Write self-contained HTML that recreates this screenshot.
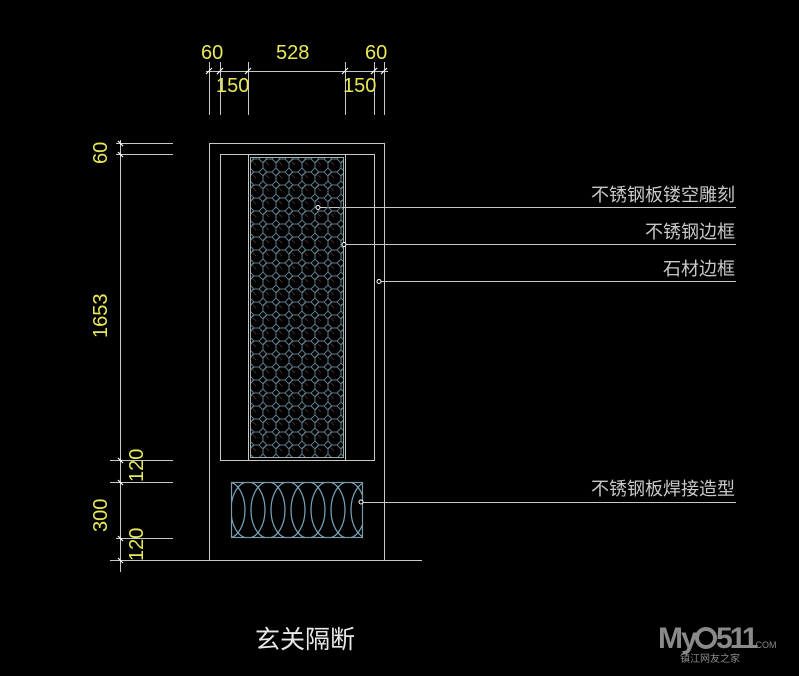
<!DOCTYPE html>
<html><head><meta charset="utf-8"><style>
html,body{margin:0;padding:0;background:#000;}
svg{display:block}
</style></head><body>
<svg width="799" height="676" viewBox="0 0 799 676" xmlns="http://www.w3.org/2000/svg">
<defs>
<pattern id="lat" x="250" y="159" width="13" height="13" patternUnits="userSpaceOnUse">
<polygon points="4,0 9,0 13,4 13,9 9,13 4,13 0,9 0,4" fill="none" stroke="#5f7a88" stroke-width="1"/>
<circle cx="0" cy="0" r="2.5" fill="none" stroke="#5f7a88" stroke-width="0.8"/>
<line x1="3" y1="3" x2="6" y2="6" stroke="#6a3a3a" stroke-width="0.6"/>
</pattern>
<clipPath id="bc"><rect x="232" y="483" width="130" height="54"/></clipPath>
</defs>
<rect width="799" height="676" fill="#000"/>
<g fill="none" stroke="#c8c8c8" stroke-width="1">
<rect x="209.5" y="143.5" width="175" height="417"/>
<rect x="220.5" y="154.5" width="154" height="306"/>
<line x1="248.5" y1="154" x2="248.5" y2="460"/>
<line x1="345.5" y1="154" x2="345.5" y2="460"/>
<rect x="250.5" y="157.5" width="93" height="300" stroke="#9aa"/>
<line x1="172" y1="560.5" x2="422" y2="560.5"/>
<line x1="206" y1="71.5" x2="388" y2="71.5"/>
<line x1="209.5" y1="62" x2="209.5" y2="115"/>
<line x1="220.5" y1="62" x2="220.5" y2="115"/>
<line x1="248.5" y1="62" x2="248.5" y2="115"/>
<line x1="345.5" y1="62" x2="345.5" y2="115"/>
<line x1="374.5" y1="62" x2="374.5" y2="115"/>
<line x1="384.5" y1="62" x2="384.5" y2="115"/>
<line x1="120.5" y1="140" x2="120.5" y2="572"/>
<line x1="116" y1="143.5" x2="173" y2="143.5"/>
<line x1="116" y1="154.5" x2="173" y2="154.5"/>
<line x1="110" y1="460.5" x2="173" y2="460.5"/>
<line x1="110" y1="482.5" x2="173" y2="482.5"/>
<line x1="116" y1="538.5" x2="173" y2="538.5"/>
<line x1="110" y1="560.5" x2="173" y2="560.5"/>
<line x1="320" y1="207.5" x2="736" y2="207.5"/>
<line x1="346" y1="244.5" x2="736" y2="244.5"/>
<line x1="381" y1="281.5" x2="736" y2="281.5"/>
<line x1="362" y1="502.5" x2="736" y2="502.5"/>
</g>
<g stroke="#fff" stroke-width="1.2">
<line x1="206" y1="74" x2="212" y2="68"/><line x1="217" y1="74" x2="223" y2="68"/><line x1="245" y1="74" x2="251" y2="68"/>
<line x1="342" y1="74" x2="348" y2="68"/><line x1="371" y1="74" x2="377" y2="68"/><line x1="381" y1="74" x2="387" y2="68"/>
<line x1="118" y1="141" x2="123" y2="146"/><line x1="118" y1="152" x2="123" y2="157"/><line x1="118" y1="458" x2="123" y2="463"/>
<line x1="118" y1="480" x2="123" y2="485"/><line x1="118" y1="536" x2="123" y2="541"/><line x1="118" y1="558" x2="123" y2="563"/>
</g>
<rect x="251" y="158" width="92" height="299" fill="url(#lat)"/>
<rect x="231.5" y="482.5" width="131" height="55" fill="none" stroke="#7c98a6" stroke-width="1.2"/>
<g clip-path="url(#bc)" fill="none" stroke="#7aa6be" stroke-width="1.2">
<ellipse cx="248" cy="510" rx="17" ry="28"/><ellipse cx="268" cy="510" rx="17" ry="28"/>
<ellipse cx="288" cy="510" rx="17" ry="28"/><ellipse cx="308" cy="510" rx="17" ry="28"/>
<ellipse cx="328" cy="510" rx="17" ry="28"/><ellipse cx="348" cy="510" rx="17" ry="28"/>
<ellipse cx="228" cy="510" rx="17" ry="28"/><ellipse cx="368" cy="510" rx="17" ry="28"/>
</g>
<g fill="#000" stroke="#fff" stroke-width="1">
<circle cx="318" cy="207.5" r="2"/><circle cx="344" cy="244.5" r="2"/><circle cx="379" cy="281.5" r="2"/><circle cx="361" cy="502" r="2"/>
</g>
<g font-family="Liberation Sans, DejaVu Sans, sans-serif" font-size="20" fill="#e8e858">
<text x="201" y="59">60</text>
<text x="276" y="59">528</text>
<text x="365" y="59">60</text>
<text x="216" y="92">150</text>
<text x="343" y="92">150</text>
<text transform="translate(107,164) rotate(-90)">60</text>
<text transform="translate(107,338) rotate(-90)">1653</text>
<text transform="translate(143,482) rotate(-90)">120</text>
<text transform="translate(107,532) rotate(-90)">300</text>
<text transform="translate(143,561) rotate(-90)">120</text>
</g>
<g font-family="Liberation Sans, Noto Sans CJK SC, sans-serif" font-size="18" fill="#c8c8c8" text-anchor="end">
<text x="735" y="201">不锈钢板镂空雕刻</text>
<text x="735" y="238">不锈钢边框</text>
<text x="735" y="275">石材边框</text>
<text x="735" y="495">不锈钢板焊接造型</text>
</g>
<text x="255" y="648" font-family="Liberation Sans, Noto Sans CJK SC, sans-serif" font-size="25" fill="#e8e8e8">玄关隔断</text>
<g font-family="Liberation Sans, Noto Sans CJK SC, sans-serif" fill="#8a8a8a">
<text x="658" y="648" font-size="30" font-weight="bold" letter-spacing="-2">My</text>
<circle cx="706" cy="638" r="9" fill="none" stroke="#8a8a8a" stroke-width="4"/>
<text x="716" y="648" font-size="30" font-weight="bold" letter-spacing="-3">511</text>
<text x="753" y="648" font-size="9">.COM</text>
<text x="680" y="662" font-size="10">镇江网友之家</text>
</g>
</svg>
</body></html>
